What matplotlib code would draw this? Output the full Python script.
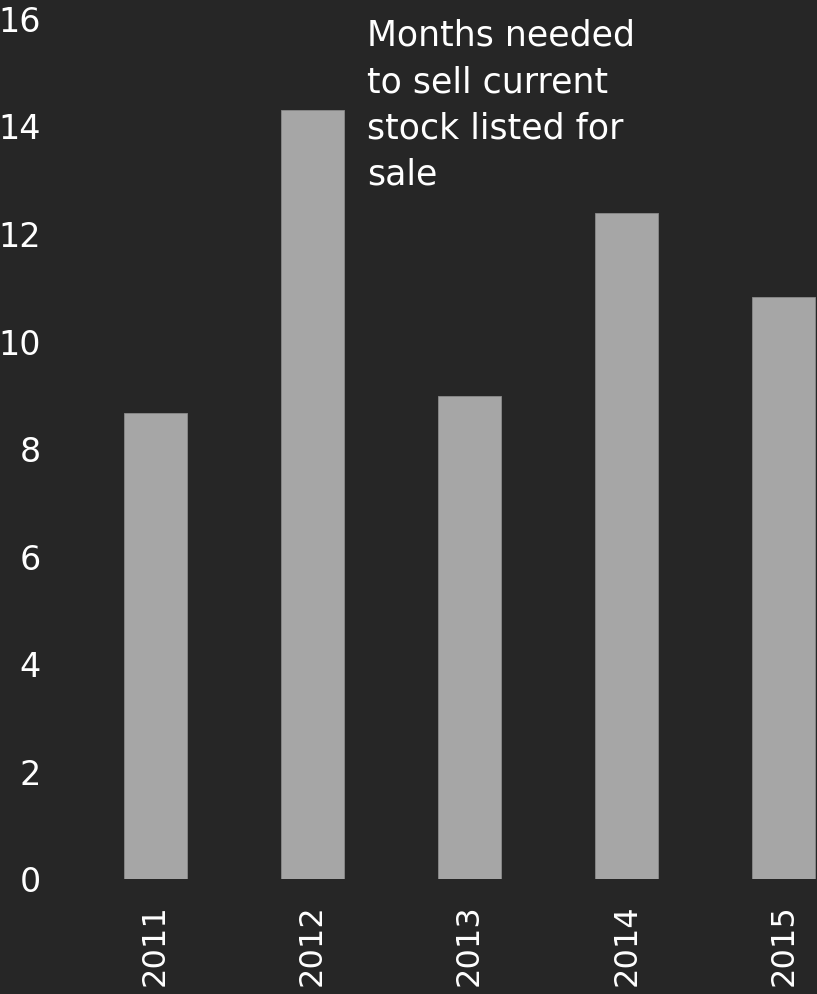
import matplotlib
matplotlib.use('Agg')
from matplotlib import pyplot as plt

years = ["2011", "2012", "2013", "2014", "2015"]
months = [8.67, 14.31, 8.99, 12.39, 10.83]
yticks = [0, 2, 4, 6, 8, 10, 12, 14, 16]
note = "Months needed\nto sell current\nstock listed for\nsale"

bg = "#262626"
bar_color = "#a6a6a6"

plt.rcParams['font.family'] = ['DejaVu Sans']

fig = plt.figure(figsize=(8.17, 9.94), dpi=100, facecolor=bg)
ax = fig.add_axes([77 / 817, 0.1154, 1 - 77 / 817, 0.981 - 0.1154])
ax.set_facecolor(bg)

x = list(range(len(years)))
ax.bar(x, months, width=0.40, color=bar_color, edgecolor="#8a8a8a", linewidth=0.6)

ax.set_xlim(-0.5, 4.212)
ax.set_ylim(0, 16)
ax.set_yticks(yticks)
ax.set_yticklabels([str(t) for t in yticks])
ax.set_xticks(x)
ax.set_xticklabels(years, rotation=90)

for s in ax.spines.values():
    s.set_visible(False)
ax.tick_params(axis='y', length=0, pad=26, labelsize=24, colors='white')
ax.tick_params(axis='x', length=0, pad=18, labelsize=23, colors='white')

fig.text(367 / 817, 1 - 19 / 994, note, color='white', fontsize=25,
         ha='left', va='top', linespacing=1.45)

fig.savefig("out.png", dpi=100, facecolor=bg)
